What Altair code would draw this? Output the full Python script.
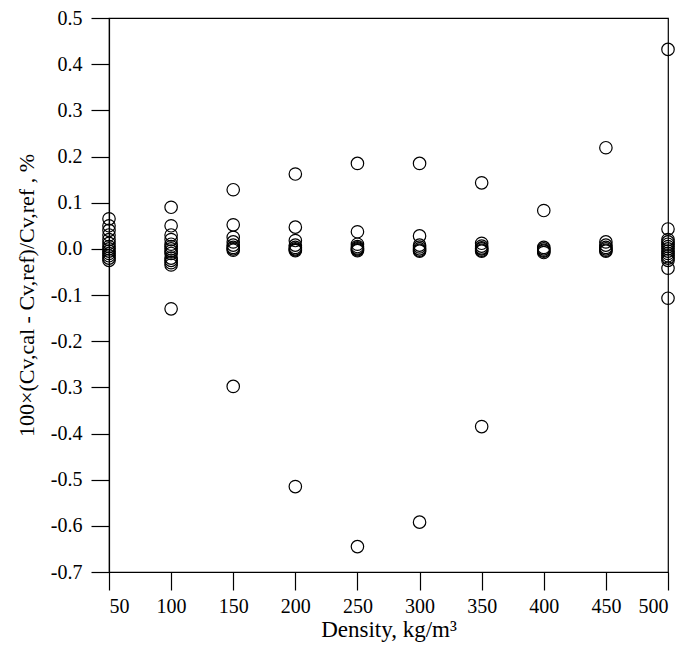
import altair as alt
import pandas as pd

# Deviation values (%) at each density (kg/m3)
d50 = [0.065, 0.05, 0.04, 0.03, 0.02, 0.012, 0.005, 0.0, -0.005, -0.01, -0.015, -0.02, -0.025]
d100 = [0.09, 0.05, 0.03, 0.02, 0.01, 0.005, 0.0, -0.005, -0.01, -0.02, -0.025, -0.03, -0.035, -0.13]
d150 = [0.128, 0.052, 0.025, 0.015, 0.008, 0.003, 0.0, -0.003, -0.298]
d200 = [0.162, 0.047, 0.018, 0.008, 0.003, 0.0, -0.002, -0.004, -0.515]
d250 = [0.185, 0.037, 0.01, 0.005, 0.002, 0.0, -0.002, -0.004, -0.645]
d300 = [0.185, 0.028, 0.008, 0.004, 0.0, -0.003, -0.005, -0.592]
d350 = [0.143, 0.012, 0.006, 0.002, 0.0, -0.003, -0.005, -0.385]
d400 = [0.083, 0.003, 0.0, -0.003, -0.005, -0.008]
d450 = [0.219, 0.015, 0.008, 0.003, 0.0, -0.003, -0.005]
d500 = [0.432, 0.043, 0.02, 0.015, 0.01, 0.005, 0.0, -0.005, -0.01, -0.015, -0.02, -0.025, -0.042, -0.107]

densities = [50, 100, 150, 200, 250, 300, 350, 400, 450, 500]
series = [d50, d100, d150, d200, d250, d300, d350, d400, d450, d500]
y_ticks = [-0.7, -0.6, -0.5, -0.4, -0.3, -0.2, -0.1, 0.0, 0.1, 0.2, 0.3, 0.4, 0.5]

rows = []
for d, vals in zip(densities, series):
    for v in vals:
        rows.append({"density": d, "dev": v})
df = pd.DataFrame(rows)

FONT = "Liberation Serif"

chart = alt.Chart(df).mark_point(
    shape="circle", filled=False, color="black", size=155, strokeWidth=1.2, opacity=1
).encode(
    x=alt.X("density:Q",
            scale=alt.Scale(domain=[50, 500], nice=False, zero=False),
            axis=alt.Axis(values=densities, title="Density, kg/m³", format="d",
                          tickSize=18, labelPadding=6, titlePadding=2,
                          titleFontSize=23)),
    y=alt.Y("dev:Q",
            scale=alt.Scale(domain=[-0.7, 0.5], nice=False, zero=False),
            axis=alt.Axis(values=y_ticks, format=".1f",
                          labelExpr="replace(datum.label, '\u2212', '-')",
                          title="100×(Cv,cal - Cv,ref)/Cv,ref , %",
                          tickSize=18, labelPadding=9, titlePadding=12,
                          titleFontSize=22)),
).properties(
    width=559, height=554,
    autosize=alt.AutoSizeParams(type="none"),
    padding={"left": 101, "top": 10, "right": 9, "bottom": 71},
).configure_view(
    stroke="black", strokeWidth=1.2
).configure_axis(
    grid=False,
    domainColor="black", domainWidth=1.2,
    tickColor="black", tickWidth=1.2,
    labelFont=FONT, labelFontSize=20, labelColor="black",
    titleFont=FONT, titleColor="black", titleFontWeight="normal",
)

chart.save("out.html", embed_options={"renderer": "svg", "actions": False})
